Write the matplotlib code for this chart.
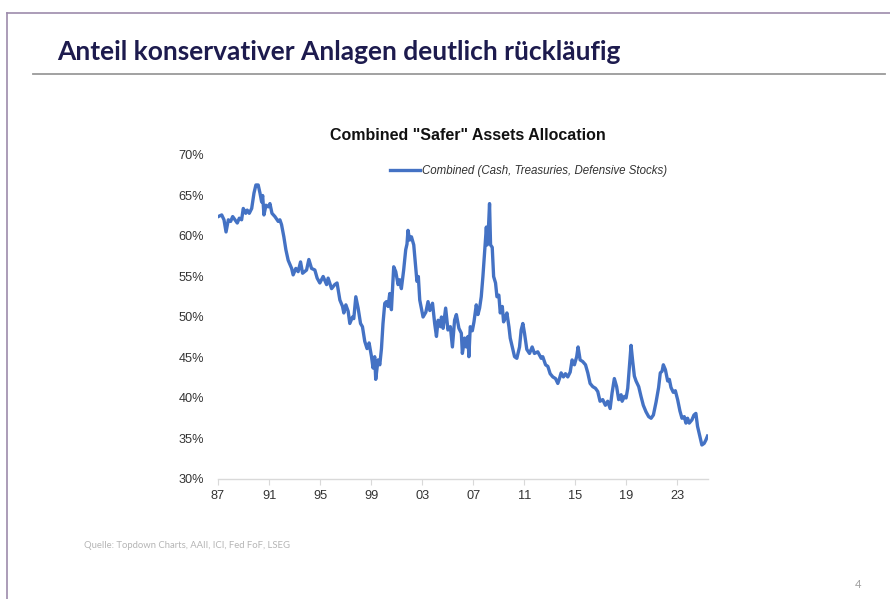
import matplotlib.pyplot as plt
from matplotlib.lines import Line2D

# Combined "safer" assets allocation (%)
years = [1987.02, 1987.29, 1987.47, 1987.63, 1987.81, 1987.99, 1988.15, 1988.33, 1988.51, 1988.67,
         1988.85, 1988.98, 1989.17, 1989.29, 1989.45, 1989.64, 1989.82, 1989.97, 1990.15, 1990.29,
         1990.42, 1990.50, 1990.60, 1990.76, 1990.94, 1991.07, 1991.23, 1991.46, 1991.72, 1991.85,
         1991.98, 1992.16, 1992.32, 1992.50, 1992.77, 1992.89, 1993.10, 1993.28, 1993.47, 1993.63,
         1993.94, 1994.12, 1994.33, 1994.59, 1994.77, 1994.98, 1995.24, 1995.51, 1995.63, 1995.90,
         1996.15, 1996.33, 1996.55, 1996.76, 1996.86, 1997.02, 1997.20, 1997.33, 1997.54, 1997.64,
         1997.80, 1997.98, 1998.17, 1998.32, 1998.50, 1998.68, 1998.84, 1999.03, 1999.15, 1999.28,
         1999.36, 1999.54, 1999.68, 1999.81, 1999.93, 2000.07, 2000.20, 2000.33, 2000.46, 2000.59,
         2000.77, 2000.93, 2001.11, 2001.24, 2001.37, 2001.55, 2001.71, 2001.81, 2001.89, 2002.02,
         2002.16, 2002.34, 2002.49, 2002.59, 2002.70, 2002.81, 2003.07, 2003.29, 2003.46, 2003.60,
         2003.81, 2003.98, 2004.12, 2004.25, 2004.44, 2004.51, 2004.64, 2004.84, 2005.02, 2005.21,
         2005.37, 2005.54, 2005.68, 2005.88, 2006.07, 2006.15, 2006.33, 2006.46, 2006.59, 2006.66,
         2006.77, 2006.93, 2007.06, 2007.24, 2007.37, 2007.50, 2007.63, 2007.76, 2007.89, 2008.03,
         2008.10, 2008.21, 2008.28, 2008.36, 2008.49, 2008.60, 2008.75, 2008.86, 2009.01, 2009.12,
         2009.28, 2009.38, 2009.54, 2009.64, 2009.80, 2009.90, 2010.06, 2010.24, 2010.42, 2010.63,
         2010.76, 2010.89, 2011.02, 2011.20, 2011.41, 2011.62, 2011.80, 2012.06, 2012.33, 2012.45,
         2012.67, 2012.85, 2013.03, 2013.24, 2013.45, 2013.63, 2013.76, 2013.89, 2014.07, 2014.23,
         2014.41, 2014.60, 2014.75, 2014.93, 2015.11, 2015.22, 2015.38, 2015.58, 2015.80, 2015.98,
         2016.16, 2016.37, 2016.58, 2016.76, 2016.94, 2017.15, 2017.36, 2017.54, 2017.73, 2017.88,
         2018.06, 2018.24, 2018.40, 2018.59, 2018.67, 2018.85, 2018.98, 2019.11, 2019.24, 2019.37,
         2019.50, 2019.63, 2019.76, 2019.97, 2020.15, 2020.33, 2020.54, 2020.75, 2020.94, 2021.12,
         2021.33, 2021.53, 2021.66, 2021.80, 2021.90, 2022.06, 2022.24, 2022.37, 2022.50, 2022.68,
         2022.84, 2023.02, 2023.20, 2023.36, 2023.54, 2023.67, 2023.80, 2023.93, 2024.14, 2024.30,
         2024.45, 2024.58, 2024.71, 2024.92, 2025.10, 2025.23, 2025.36]
combined = [62.4, 62.6, 62.0, 60.5, 62.0, 61.8, 62.4, 62.0, 61.6, 62.2,
            62.0, 63.4, 62.8, 63.2, 62.8, 63.4, 65.3, 66.3, 66.3, 65.3,
            64.2, 65.0, 62.6, 63.8, 63.6, 64.0, 62.8, 62.4, 61.8, 62.0,
            61.4, 59.9, 58.3, 57.0, 56.0, 55.2, 56.0, 55.6, 56.8, 55.4,
            55.8, 57.1, 56.0, 55.8, 54.8, 54.2, 55.0, 54.0, 54.8, 53.5,
            54.0, 54.2, 52.1, 51.3, 50.5, 51.5, 50.7, 49.2, 50.0, 49.8,
            52.5, 51.1, 49.2, 48.8, 47.0, 46.1, 46.8, 45.1, 43.7, 45.1,
            42.3, 44.7, 44.1, 46.1, 49.2, 51.7, 51.9, 51.3, 52.9, 50.9,
            56.2, 55.6, 54.0, 54.6, 53.5, 55.8, 58.3, 59.0, 60.7, 59.5,
            59.9, 58.9, 56.2, 54.4, 55.0, 52.1, 50.0, 50.6, 51.9, 50.8,
            51.7, 49.2, 47.6, 49.6, 48.8, 50.0, 48.6, 51.1, 48.4, 48.8,
            46.3, 49.6, 50.3, 48.6, 48.0, 45.5, 47.4, 46.3, 47.6, 45.1,
            48.8, 48.3, 49.4, 51.5, 50.3, 51.1, 52.5, 55.0, 57.9, 61.1,
            58.9, 61.5, 64.0, 58.9, 58.6, 55.0, 54.2, 52.5, 52.7, 50.5,
            51.3, 49.4, 50.0, 50.5, 48.8, 47.4, 46.3, 45.1, 44.9, 46.3,
            48.4, 49.2, 48.0, 46.0, 45.5, 46.3, 45.5, 45.7, 44.9, 45.1,
            44.1, 43.9, 43.0, 42.6, 42.4, 41.8, 42.4, 43.1, 42.6, 43.0,
            42.6, 43.2, 44.7, 44.1, 45.1, 46.3, 44.7, 44.5, 44.1, 43.1,
            41.8, 41.4, 41.2, 40.8, 39.6, 39.8, 39.1, 39.6, 38.7, 40.6,
            42.4, 41.4, 39.8, 40.4, 39.6, 40.2, 40.0, 41.2, 43.9, 46.5,
            44.5, 42.7, 42.1, 41.4, 40.2, 39.1, 38.3, 37.7, 37.5, 37.9,
            39.5, 41.3, 43.1, 43.3, 44.1, 43.5, 42.1, 42.3, 41.3, 40.7,
            40.9, 39.8, 38.4, 37.5, 37.7, 36.9, 37.5, 36.9, 37.3, 37.9,
            38.1, 36.5, 35.6, 34.2, 34.4, 34.8, 35.3]

tick_years = [1987, 1991, 1995, 1999, 2003, 2007, 2011, 2015, 2019, 2023]
tick_labels = ['87', '91', '95', '99', '03', '07', '11', '15', '19', '23']
y_ticks = [30, 35, 40, 45, 50, 55, 60, 65, 70]

fig = plt.figure(figsize=(8.9, 5.99), dpi=100)
fig.patch.set_facecolor('white')

# slide frame (left and top purple-grey border)
fig.add_artist(Line2D([7/890, 7/890], [0, 1 - 13/599], color='#9d8bab', lw=1.2))
fig.add_artist(Line2D([7/890, 1], [1 - 13/599, 1 - 13/599], color='#9d8bab', lw=1.2))

# slide title + rule
fig.text(57/890, 1 - 60/599, 'Anteil konservativer Anlagen deutlich rückläufig',
         fontsize=19, fontweight='bold', family='Lato', color='#1d1b4e', va='baseline')
fig.add_artist(Line2D([33/890, 885/890], [1 - 74/599, 1 - 74/599], color='#9a9a9a', lw=1.3))

ax = fig.add_axes([218/890, 1 - 479/599, 490/890, 324/599])
ax.plot(years, combined, color='#4472C4', lw=2.4,
        label='Combined (Cash, Treasuries, Defensive Stocks)')

ax.set_xlim(1987, 2025.4)
ax.set_ylim(30, 70)
ax.set_xticks(tick_years)
ax.set_xticklabels(tick_labels)
ax.set_yticks(y_ticks)
ax.set_yticklabels([f'{v}%' for v in y_ticks])

for s in ['top', 'right', 'left']:
    ax.spines[s].set_visible(False)
ax.spines['bottom'].set_color('#d9d9d9')
ax.spines['bottom'].set_linewidth(1)
ax.tick_params(axis='x', length=4, color='#d9d9d9', pad=4, labelsize=9.2,
               labelcolor='#333333')
ax.tick_params(axis='y', length=0, pad=10, labelsize=9.2, labelcolor='#333333')
for lab in ax.get_xticklabels() + ax.get_yticklabels():
    lab.set_family('Liberation Sans')

fig.text(468/890, 1 - 136/599, 'Combined "Safer" Assets Allocation', ha='center',
         va='center', fontsize=11.5, fontweight='bold', family='Liberation Sans',
         color='#111111')

leg = ax.legend(loc='center left', bbox_to_anchor=(390/890, 1 - 171/599),
                bbox_transform=fig.transFigure, frameon=False, borderpad=0,
                borderaxespad=0, handlelength=2.6, handletextpad=0.2,
                prop={'family': 'Liberation Sans', 'style': 'italic', 'size': 8.3})
for t in leg.get_texts():
    t.set_color('#333333')

# footer
fig.text(84/890, 1 - 545/599, 'Quelle: Topdown Charts, AAII, ICI, Fed FoF, LSEG',
         fontsize=6.8, family='Lato', color='#b5b5b5', va='center')
fig.text(858/890, 1 - 584/599, '4', fontsize=8, family='Lato', color='#a0a0a0',
         va='center', ha='center')

plt.savefig('out.png', dpi=100)
